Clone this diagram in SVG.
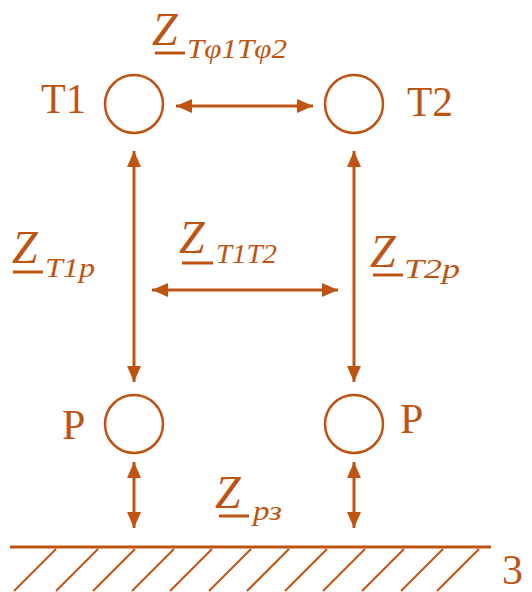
<svg xmlns="http://www.w3.org/2000/svg" width="532" height="592" viewBox="0 0 532 592">
<style>
.c{fill:none;stroke:#BF5412;stroke-width:2.5}
.ln{stroke:#BF5412;stroke-width:3;fill:none}
.ar{stroke:#BF5412;stroke-width:3;fill:none;marker-start:url(#ah);marker-end:url(#ah)}
.t{font-family:'Liberation Serif','Times New Roman',serif;fill:#BF5412;font-size:42px}
.z{font-family:'Liberation Serif','Times New Roman',serif;font-style:italic;fill:#BF5412;font-size:46px}
.s{font-family:'Liberation Serif','Times New Roman',serif;font-style:italic;fill:#BF5412;font-size:27px}
.h{stroke:#BF5412;stroke-width:2}
</style>
<defs>
<marker id="ah" markerUnits="userSpaceOnUse" markerWidth="18" markerHeight="16" refX="16" refY="7" orient="auto-start-reverse">
<path d="M0,0 L16,7 L0,14 Z" fill="#BF5412"/>
</marker>
</defs>
<g id="connectors">
<line class="ar" x1="176" y1="106" x2="313" y2="106"/>
<line class="ar" x1="134" y1="151" x2="134" y2="382"/>
<line class="ar" x1="354" y1="151" x2="354" y2="382"/>
<line class="ar" x1="152" y1="290" x2="338" y2="290"/>
<line class="ar" x1="134" y1="462" x2="134" y2="528"/>
<line class="ar" x1="354" y1="462" x2="354" y2="528"/>
</g>
<g id="T1"><circle class="c" cx="134" cy="104" r="29"/><text class="t" x="41" y="113" textLength="45" lengthAdjust="spacingAndGlyphs">T1</text></g>
<g id="T2"><circle class="c" cx="354" cy="104" r="29"/><text class="t" x="407" y="116" textLength="46" lengthAdjust="spacingAndGlyphs">T2</text></g>
<g id="P1"><circle class="c" cx="134" cy="424" r="29"/><text class="t" x="62" y="439">P</text></g>
<g id="P2"><circle class="c" cx="354" cy="424" r="29"/><text class="t" x="400" y="433">P</text></g>
<g id="label-ZT1T2top">
<text class="z" x="152" y="45">Z</text><line class="ln" x1="155" y1="53" x2="185" y2="53"/>
<text class="s" x="187" y="58" textLength="100" lengthAdjust="spacingAndGlyphs">Tφ1Tφ2</text>
</g>
<g id="label-ZT1p">
<text class="z" x="12" y="263">Z</text><line class="ln" x1="13" y1="272" x2="43" y2="272"/>
<text class="s" x="45" y="277" textLength="50" lengthAdjust="spacingAndGlyphs">T1p</text>
</g>
<g id="label-ZT1T2">
<text class="z" x="179" y="253">Z</text><line class="ln" x1="182" y1="263" x2="213" y2="263"/>
<text class="s" x="216" y="263" textLength="61" lengthAdjust="spacingAndGlyphs">T1T2</text>
</g>
<g id="label-ZT2p">
<text class="z" x="370" y="267">Z</text><line class="ln" x1="373" y1="275" x2="403" y2="275"/>
<text class="s" x="404" y="278" textLength="56" lengthAdjust="spacingAndGlyphs">T2p</text>
</g>
<g id="label-Zp3">
<text class="z" x="215" y="508">Z</text><line class="ln" x1="219" y1="516" x2="249" y2="516"/>
<text class="s" x="253" y="520" textLength="29" lengthAdjust="spacingAndGlyphs">рз</text>
</g>
<g id="ground">
<line class="ln" x1="10" y1="547" x2="491" y2="547"/>
<g class="h">
<line x1="14" y1="591" x2="56" y2="549"/>
<line x1="56" y1="591" x2="98" y2="549"/>
<line x1="93" y1="591" x2="135" y2="549"/>
<line x1="132" y1="591" x2="174" y2="549"/>
<line x1="170" y1="591" x2="212" y2="549"/>
<line x1="209" y1="591" x2="251" y2="549"/>
<line x1="247" y1="591" x2="289" y2="549"/>
<line x1="285" y1="591" x2="327" y2="549"/>
<line x1="323" y1="591" x2="365" y2="549"/>
<line x1="362" y1="591" x2="404" y2="549"/>
<line x1="401" y1="591" x2="443" y2="549"/>
<line x1="437" y1="591" x2="479" y2="549"/>
</g>
<text class="t" x="502" y="584" font-size="38">3</text>
</g>
</svg>
